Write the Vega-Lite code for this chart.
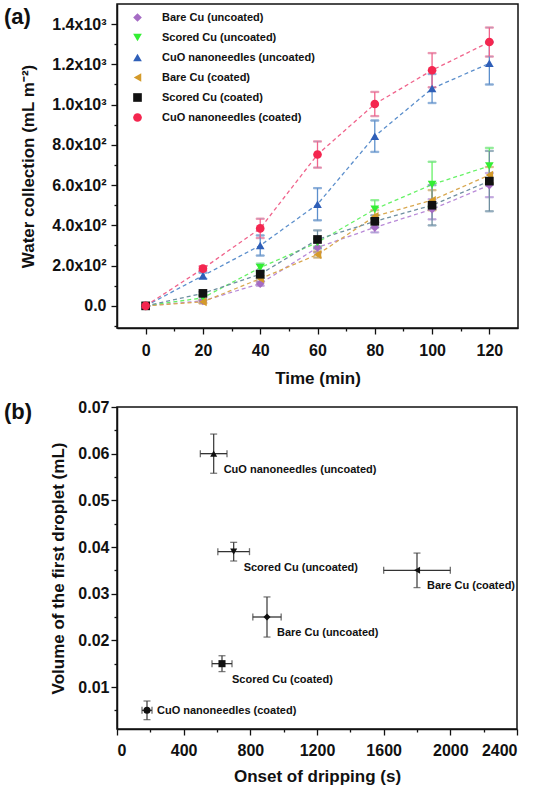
{
  "$schema": "https://vega.github.io/schema/vega-lite/v6.json",
  "padding": {"left": 3, "top": 3, "right": 0, "bottom": 0},
  "background": "white",
  "spacing": 11,
  "config": {
    "font": "Liberation Sans",
    "view": {"stroke": "#111", "strokeWidth": 1.5},
    "axis": {
      "labelFont": "Liberation Sans", "labelFontWeight": "bold", "labelFontSize": 16, "labelColor": "#111",
      "titleFont": "Liberation Sans", "titleFontWeight": "bold", "titleFontSize": 17, "titleColor": "#111",
      "grid": false, "domainColor": "#111", "domainWidth": 1.5, "tickColor": "#111", "tickWidth": 1.3
    },
    "title": {"font": "Liberation Sans", "fontWeight": "bold", "fontSize": 22, "color": "#111", "anchor": "start", "frame": "group", "baseline": "top", "dx": -113, "offset": -25}
  },
  "vconcat": [
    {
      "width": 401,
      "height": 324,
      "title": {"text": "(a)"},
      "data": {"values": [
        {"series": "Bare Cu (uncoated)", "time": 0, "value": 0, "err": 0},
        {"series": "Bare Cu (uncoated)", "time": 20, "value": 25, "err": 8},
        {"series": "Bare Cu (uncoated)", "time": 40, "value": 110, "err": 10},
        {"series": "Bare Cu (uncoated)", "time": 60, "value": 290, "err": 25},
        {"series": "Bare Cu (uncoated)", "time": 80, "value": 390, "err": 25},
        {"series": "Bare Cu (uncoated)", "time": 100, "value": 480, "err": 50},
        {"series": "Bare Cu (uncoated)", "time": 120, "value": 600, "err": 60},
        {"series": "Scored Cu (uncoated)", "time": 0, "value": 0, "err": 0},
        {"series": "Scored Cu (uncoated)", "time": 20, "value": 40, "err": 10},
        {"series": "Scored Cu (uncoated)", "time": 40, "value": 190, "err": 20},
        {"series": "Scored Cu (uncoated)", "time": 60, "value": 315, "err": 20},
        {"series": "Scored Cu (uncoated)", "time": 80, "value": 480, "err": 45},
        {"series": "Scored Cu (uncoated)", "time": 100, "value": 603, "err": 113},
        {"series": "Scored Cu (uncoated)", "time": 120, "value": 695, "err": 90},
        {"series": "CuO nanoneedles (uncoated)", "time": 0, "value": 0, "err": 0},
        {"series": "CuO nanoneedles (uncoated)", "time": 20, "value": 150, "err": 15},
        {"series": "CuO nanoneedles (uncoated)", "time": 40, "value": 300, "err": 50},
        {"series": "CuO nanoneedles (uncoated)", "time": 60, "value": 505, "err": 80},
        {"series": "CuO nanoneedles (uncoated)", "time": 80, "value": 843, "err": 78},
        {"series": "CuO nanoneedles (uncoated)", "time": 100, "value": 1080, "err": 72},
        {"series": "CuO nanoneedles (uncoated)", "time": 120, "value": 1205, "err": 105},
        {"series": "Bare Cu (coated)", "time": 0, "value": 0, "err": 0},
        {"series": "Bare Cu (coated)", "time": 20, "value": 20, "err": 8},
        {"series": "Bare Cu (coated)", "time": 40, "value": 135, "err": 15},
        {"series": "Bare Cu (coated)", "time": 60, "value": 255, "err": 15},
        {"series": "Bare Cu (coated)", "time": 80, "value": 445, "err": 30},
        {"series": "Bare Cu (coated)", "time": 100, "value": 525, "err": 50},
        {"series": "Bare Cu (coated)", "time": 120, "value": 650, "err": 40},
        {"series": "Scored Cu (coated)", "time": 0, "value": 0, "err": 0},
        {"series": "Scored Cu (coated)", "time": 20, "value": 62, "err": 8},
        {"series": "Scored Cu (coated)", "time": 40, "value": 157, "err": 20},
        {"series": "Scored Cu (coated)", "time": 60, "value": 330, "err": 45},
        {"series": "Scored Cu (coated)", "time": 80, "value": 420, "err": 30},
        {"series": "Scored Cu (coated)", "time": 100, "value": 500, "err": 100},
        {"series": "Scored Cu (coated)", "time": 120, "value": 620, "err": 150},
        {"series": "CuO nanoneedles (coated)", "time": 0, "value": 0, "err": 0},
        {"series": "CuO nanoneedles (coated)", "time": 20, "value": 185, "err": 12},
        {"series": "CuO nanoneedles (coated)", "time": 40, "value": 385, "err": 48},
        {"series": "CuO nanoneedles (coated)", "time": 60, "value": 752, "err": 65},
        {"series": "CuO nanoneedles (coated)", "time": 80, "value": 1003, "err": 60},
        {"series": "CuO nanoneedles (coated)", "time": 100, "value": 1171, "err": 85},
        {"series": "CuO nanoneedles (coated)", "time": 120, "value": 1311, "err": 72}
      ]},
      "encoding": {
        "x": {
          "field": "time", "type": "quantitative",
          "scale": {"domain": [-10, 130], "nice": false, "zero": false},
          "axis": {
            "title": "Time (min)",
            "values": [0, 10, 20, 30, 40, 50, 60, 70, 80, 90, 100, 110, 120],
            "labelExpr": "datum.value % 20 == 0 ? datum.label : ''",
            "tickSize": {"condition": {"test": "datum.value % 20 == 0", "value": 6}, "value": 3},
            "labelPadding": 8, "titlePadding": 12
          }
        },
        "y": {
          "field": "value", "type": "quantitative",
          "scale": {"domain": [-110, 1500], "nice": false, "zero": false},
          "axis": {
            "title": "Water collection (mL m⁻²)",
            "values": [-100, 0, 100, 200, 300, 400, 500, 600, 700, 800, 900, 1000, 1100, 1200, 1300, 1400],
            "labelExpr": "datum.value % 200 != 0 ? '' : datum.value == 0 ? '0.0' : datum.value >= 1000 ? format(datum.value / 1000, '.1f') + 'x10³' : format(datum.value / 100, '.1f') + 'x10²'",
            "tickSize": {"condition": {"test": "datum.value % 200 == 0", "value": 6}, "value": 3},
            "labelPadding": 5, "titlePadding": 14
          }
        }
      },
      "layer": [
        {
          "mark": {"type": "line", "strokeDash": [4, 3], "strokeWidth": 1.3},
          "encoding": {
            "stroke": {"field": "series", "type": "nominal", "legend": null,
              "scale": {"domain": ["Bare Cu (uncoated)", "Scored Cu (uncoated)", "CuO nanoneedles (uncoated)", "Bare Cu (coated)", "Scored Cu (coated)", "CuO nanoneedles (coated)"],
                "range": ["#b98ad8", "#66f266", "#5c8fcc", "#d9a850", "#6f8fa0", "#f0648c"]}}
          }
        },
        {
          "mark": {"type": "errorbar", "ticks": {"size": 8}, "thickness": 1.3},
          "encoding": {
            "yError": {"field": "err"},
            "stroke": {"field": "series", "type": "nominal", "legend": null,
              "scale": {"domain": ["Bare Cu (uncoated)", "Scored Cu (uncoated)", "CuO nanoneedles (uncoated)", "Bare Cu (coated)", "Scored Cu (coated)", "CuO nanoneedles (coated)"],
                "range": ["#b98ad8", "#66f266", "#5c8fcc", "#d9a850", "#6f8fa0", "#f0648c"]}}
          }
        },
        {
          "mark": {"type": "point", "filled": true, "size": 75, "opacity": 1},
          "encoding": {
            "color": {"field": "series", "type": "nominal", "legend": null,
              "scale": {"domain": ["Bare Cu (uncoated)", "Scored Cu (uncoated)", "CuO nanoneedles (uncoated)", "Bare Cu (coated)", "Scored Cu (coated)", "CuO nanoneedles (coated)"],
                "range": ["#a56cc4", "#33ee33", "#2f5fb8", "#d49a2a", "#111111", "#f4264f"]}},
            "shape": {"field": "series", "type": "nominal",
              "scale": {"domain": ["Bare Cu (uncoated)", "Scored Cu (uncoated)", "CuO nanoneedles (uncoated)", "Bare Cu (coated)", "Scored Cu (coated)", "CuO nanoneedles (coated)"],
                "range": ["diamond", "triangle-down", "triangle-up", "triangle-left", "square", "circle"]},
              "legend": {"orient": "none", "legendX": 15, "legendY": 8, "title": null, "labelFont": "Liberation Sans", "labelFontWeight": "bold", "labelFontSize": 11, "labelColor": "#111", "symbolSize": 75, "rowPadding": 8, "labelOffset": 19, "symbolOpacity": 1, "symbolStrokeWidth": 0,
                "symbolFillColor": {"expr": "datum.value == 'Bare Cu (uncoated)' ? '#a56cc4' : datum.value == 'Scored Cu (uncoated)' ? '#33ee33' : datum.value == 'CuO nanoneedles (uncoated)' ? '#2f5fb8' : datum.value == 'Bare Cu (coated)' ? '#d49a2a' : datum.value == 'Scored Cu (coated)' ? '#111111' : '#f4264f'"}}}
          }
        }
      ]
    },
    {
      "width": 400,
      "height": 322,
      "title": {"text": "(b)"},
      "data": {"values": [
        {"sample": "CuO nanoneedles (uncoated)", "onset": 580, "volume": 0.06, "xerr": 80, "yerr": 0.0042},
        {"sample": "Scored Cu (uncoated)", "onset": 700, "volume": 0.039, "xerr": 95, "yerr": 0.002},
        {"sample": "Bare Cu (uncoated)", "onset": 900, "volume": 0.025, "xerr": 85, "yerr": 0.0043},
        {"sample": "Scored Cu (coated)", "onset": 630, "volume": 0.015, "xerr": 60, "yerr": 0.0017},
        {"sample": "CuO nanoneedles (coated)", "onset": 180, "volume": 0.005, "xerr": 30, "yerr": 0.002},
        {"sample": "Bare Cu (coated)", "onset": 1800, "volume": 0.035, "xerr": 200, "yerr": 0.0037}
      ]},
      "encoding": {
        "x": {
          "field": "onset", "type": "quantitative",
          "scale": {"domain": [0, 2400], "nice": false, "zero": false},
          "axis": {
            "title": "Onset of dripping (s)", "format": "d",
            "values": [0, 200, 400, 600, 800, 1000, 1200, 1400, 1600, 1800, 2000, 2200, 2400],
            "labelExpr": "datum.value % 400 == 0 ? datum.label : ''",
            "tickSize": {"condition": {"test": "datum.value % 400 == 0", "value": 6}, "value": 3},
            "labelPadding": 7, "titlePadding": 10
          }
        },
        "y": {
          "field": "volume", "type": "quantitative",
          "scale": {"domain": [0.001, 0.07], "nice": false, "zero": false},
          "axis": {
            "title": "Volume of the first droplet (mL)",
            "values": [0.005, 0.01, 0.015, 0.02, 0.025, 0.03, 0.035, 0.04, 0.045, 0.05, 0.055, 0.06, 0.065, 0.07],
            "labelExpr": "round(datum.value * 1000) % 10 == 0 ? format(datum.value, '.2f') : ''",
            "tickSize": {"condition": {"test": "round(datum.value * 1000) % 10 == 0", "value": 6}, "value": 3},
            "labelPadding": 2, "titlePadding": 10
          }
        }
      },
      "layer": [
        {
          "mark": {"type": "errorbar", "ticks": {"size": 7}, "thickness": 1.3, "color": "#333"},
          "encoding": {"xError": {"field": "xerr"}}
        },
        {
          "mark": {"type": "errorbar", "ticks": {"size": 7}, "thickness": 1.3, "color": "#444"},
          "encoding": {"yError": {"field": "yerr"}}
        },
        {
          "mark": {"type": "point", "filled": true, "size": 50, "opacity": 1, "color": "#111"},
          "encoding": {
            "shape": {"field": "sample", "type": "nominal", "legend": null,
              "scale": {"domain": ["CuO nanoneedles (uncoated)", "Scored Cu (uncoated)", "Bare Cu (uncoated)", "Scored Cu (coated)", "CuO nanoneedles (coated)", "Bare Cu (coated)"],
                "range": ["circle", "triangle-up", "circle", "diamond", "square", "M0,-1.1L0.26,-0.36L1.05,-0.34L0.42,0.14L0.65,0.89L0,0.44L-0.65,0.89L-0.42,0.14L-1.05,-0.34L-0.26,-0.36Z"]}}
          }
        },
        {
          "transform": [{"filter": "datum.sample != 'CuO nanoneedles (coated)'"}],
          "mark": {"type": "text", "align": "left", "baseline": "middle", "dx": 10, "dy": 16, "font": "Liberation Sans", "fontSize": 11, "fontWeight": "bold", "color": "#111"},
          "encoding": {"text": {"field": "sample"}}
        },
        {
          "transform": [{"filter": "datum.sample == 'CuO nanoneedles (coated)'"}],
          "mark": {"type": "text", "align": "left", "baseline": "middle", "dx": 10, "dy": 1, "font": "Liberation Sans", "fontSize": 11, "fontWeight": "bold", "color": "#111"},
          "encoding": {"text": {"field": "sample"}}
        }
      ]
    }
  ]
}
